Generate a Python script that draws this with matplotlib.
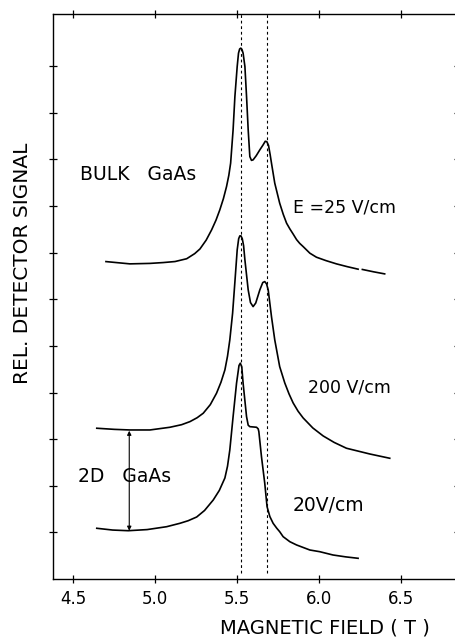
import numpy as np
import matplotlib
matplotlib.use("Agg")
import matplotlib.pyplot as plt

plt.rcParams['font.family'] = ['DejaVu Sans']

# ---- data (magnetic field in T, relative detector signal in arbitrary units) ----
bulk25_B = [4.699, 4.845, 4.967, 5.048, 5.120, 5.191, 5.240, 5.272, 5.310, 5.343, 5.370,
            5.393, 5.415, 5.434, 5.448, 5.459, 5.474, 5.485, 5.499, 5.507, 5.514, 5.521,
            5.528, 5.535, 5.546, 5.556, 5.566, 5.576, 5.586, 5.596, 5.615, 5.637, 5.657,
            5.670, 5.680, 5.690, 5.700, 5.708, 5.728, 5.758, 5.780, 5.800, 5.820, 5.840,
            5.861, 5.880, 5.901, 5.942, 5.982, 6.040, 6.104, 6.170, 6.236, np.nan,
            6.262, 6.330, 6.398]
bulk25_S = [6.809, 6.760, 6.770, 6.788, 6.810, 6.870, 6.980, 7.080, 7.270, 7.489, 7.700,
            7.918, 8.160, 8.418, 8.660, 8.921, 9.635, 10.350, 10.994, 11.280, 11.370, 11.388,
            11.360, 11.280, 10.994, 10.350, 9.635, 9.062, 8.980, 8.991, 9.080, 9.206, 9.313,
            9.390, 9.380, 9.300, 9.100, 8.921, 8.491, 8.062, 7.820, 7.633, 7.510, 7.400,
            7.280, 7.200, 7.131, 6.989, 6.903, 6.830, 6.760, 6.700, 6.646, np.nan,
            6.640, 6.590, 6.545]

bulk200_B = [4.643, 4.750, 4.845, 4.967, 5.089, 5.160, 5.211, 5.255, 5.292, 5.335, 5.373,
             5.400, 5.424, 5.440, 5.454, 5.471, 5.485, 5.499, 5.508, 5.515, 5.522, 5.530,
             5.538, 5.546, 5.566, 5.580, 5.596, 5.612, 5.637, 5.655, 5.667, 5.678, 5.688,
             5.708, 5.728, 5.758, 5.789, 5.815, 5.840, 5.870, 5.901, 5.960, 6.023, 6.090,
             6.165, 6.307, 6.429]
bulk200_S = [3.234, 3.210, 3.197, 3.197, 3.255, 3.310, 3.376, 3.460, 3.556, 3.740, 3.985,
             4.220, 4.485, 4.780, 5.129, 5.702, 6.373, 7.060, 7.300, 7.360, 7.360, 7.300,
             7.150, 6.845, 6.202, 5.930, 5.843, 5.920, 6.202, 6.360, 6.380, 6.330, 6.202,
             5.629, 5.129, 4.556, 4.206, 3.970, 3.777, 3.600, 3.455, 3.240, 3.069, 2.930,
             2.805, 2.682, 2.590]

twoD20_B = [4.643, 4.740, 4.835, 4.950, 5.069, 5.150, 5.200, 5.252, 5.300, 5.353, 5.390,
            5.424, 5.440, 5.454, 5.474, 5.495, 5.510, 5.518, 5.527, 5.535, 5.556, 5.566,
            5.576, 5.617, 5.627, 5.631, 5.647, 5.667, 5.681, 5.698, 5.718, 5.740, 5.758,
            5.779, 5.820, 5.861, 5.942, 6.002, 6.083, 6.160, 6.236]
twoD20_S = [1.088, 1.050, 1.036, 1.060, 1.122, 1.195, 1.250, 1.330, 1.470, 1.695, 1.900,
            2.167, 2.420, 2.768, 3.483, 4.200, 4.580, 4.629, 4.550, 4.200, 3.483, 3.300,
            3.268, 3.255, 3.220, 3.161, 2.624, 2.054, 1.552, 1.340, 1.195, 1.090, 1.015,
            0.908, 0.800, 0.730, 0.622, 0.586, 0.515, 0.475, 0.444]

resonance_B = [5.523, 5.680]          # dashed reference lines
arrow_B = 4.841
arrow_S = [3.18, 1.036]

xticks = [4.5, 5.0, 5.5, 6.0, 6.5]
xtick_labels = ["4.5", "5.0", "5.5", "6.0", "6.5"]
yticks = [1, 2, 3, 4, 5, 6, 7, 8, 9, 10, 11]

# ---- figure ----
W, H = 455, 642
fig = plt.figure(figsize=(W / 100, H / 100), dpi=100)
left_px, right_px, top_px, bottom_px = 53.3, 458, 14, 579
ax = fig.add_axes([left_px / W, 1 - bottom_px / H,
                   (right_px - left_px) / W, (bottom_px - top_px) / H])

ax.set_xlim(4.378, 6.845)
ax.set_ylim(0, 12.12)

for B in resonance_B:
    ax.vlines(B, 0.13, 12.12, colors='black', linewidth=0.8,
              linestyles=(0, (2.5, 2.5)))

kw = dict(color='black', linewidth=1.2, solid_joinstyle='round')
ax.plot(bulk25_B, bulk25_S, **kw)
ax.plot(bulk200_B, bulk200_S, **kw)
ax.plot(twoD20_B, twoD20_S, **kw)

ax.annotate('', xy=(arrow_B, arrow_S[1]), xytext=(arrow_B, arrow_S[0]),
            arrowprops=dict(arrowstyle='<|-|>', color='black', lw=0.8,
                            mutation_scale=6, shrinkA=0, shrinkB=0))

ax.text(4.541, 8.67, "BULK   GaAs", fontsize=13.5, ha='left', va='center')
ax.text(5.838, 7.96, "E =25 V/cm", fontsize=12.5, ha='left', va='center')
ax.text(5.929, 4.10, "200 V/cm", fontsize=12.5, ha='left', va='center')
ax.text(4.529, 2.19, "2D   GaAs", fontsize=13.5, ha='left', va='center')
ax.text(5.838, 1.57, "20V/cm", fontsize=13.5, ha='left', va='center')

ax.set_xticks(xticks)
ax.set_xticklabels(xtick_labels, fontsize=12)
ax.set_yticks(yticks)
ax.set_yticklabels([])
ax.tick_params(axis='both', direction='inout', length=6, width=0.9,
               top=True, right=True, labeltop=False, labelright=False)
ax.tick_params(axis='x', pad=5)
for s in ax.spines.values():
    s.set_linewidth(1.0)

fig.text(325 / W, 1 - 628 / H, "MAGNETIC FIELD ( T )", fontsize=14,
         ha='center', va='center')
fig.text(23 / W, 1 - 263 / H, "REL. DETECTOR SIGNAL", fontsize=14.5,
         ha='center', va='center', rotation=90)

fig.savefig("out.png", dpi=100)
